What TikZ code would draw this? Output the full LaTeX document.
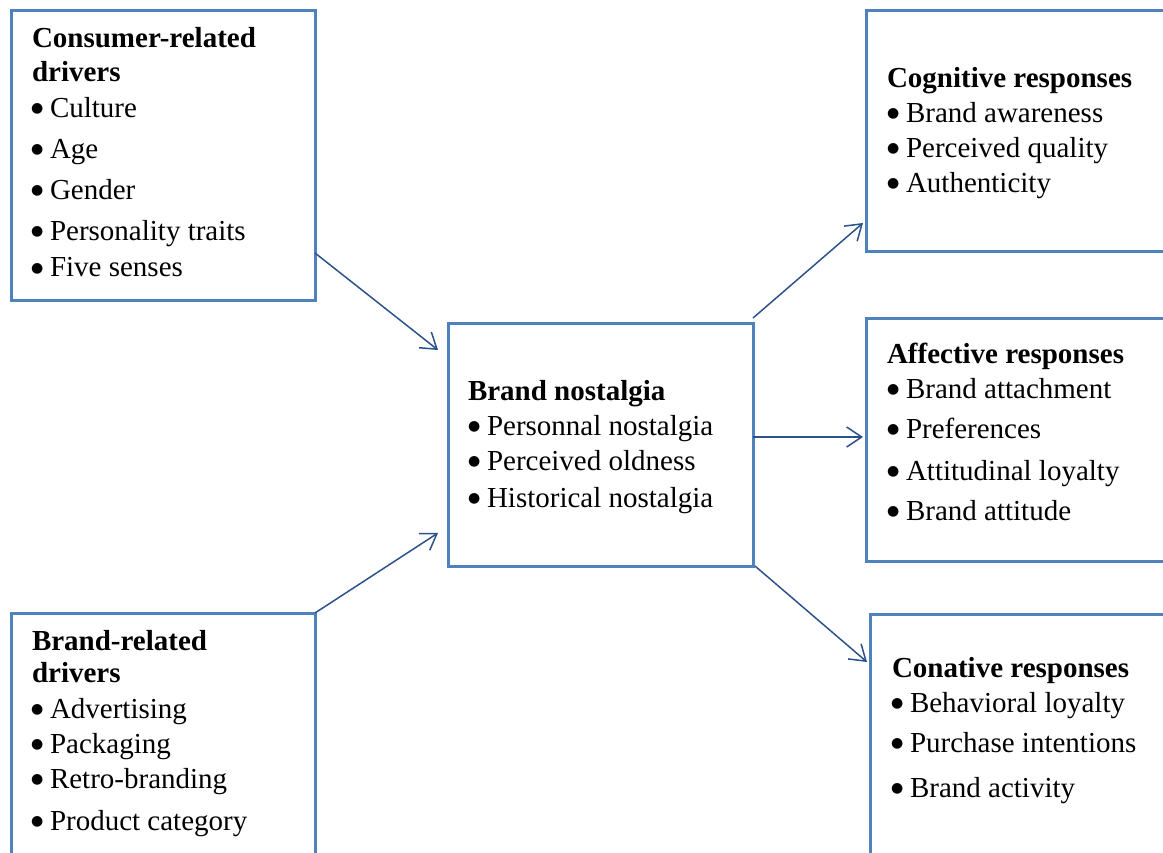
\documentclass[tikz,border=0pt]{standalone}
\usepackage{fontspec}
\setmainfont{Liberation Serif}
\newfontfamily\symfont{DejaVu Sans}
\usetikzlibrary{arrows.meta}
\definecolor{boxblue}{RGB}{79,129,189}
\definecolor{arrowblue}{RGB}{44,82,140}
% round list bullet followed by a fixed gap
\newcommand{\itembul}{\makebox[19pt][l]{\raisebox{5pt}{\fontsize{14}{14}\symfont ●}}}
\begin{document}
\begin{tikzpicture}[x=1pt,y=-1pt,
  box/.style={draw=boxblue, line width=3pt, rectangle, inner sep=0pt, outer sep=0pt, anchor=north west},
  txt/.style={anchor=base west, inner sep=0pt, outer sep=0pt, font=\fontsize{29}{34}\selectfont},
  head/.style={txt, font=\fontsize{29}{34}\selectfont\bfseries},
  link/.style={draw=arrowblue, line width=1.5pt, -{Straight Barb[length=15pt,width=20pt]}}]
\useasboundingbox (0,0) rectangle (1163,853);
\clip (0,0) rectangle (1163,853);

% frames
\node[box, minimum width=304pt, minimum height=290pt] (cons) at (11,11) {};
\node[box, minimum width=304pt, minimum height=300pt] (brd) at (11,613) {};
\node[box, minimum width=305pt, minimum height=242pt] (nost) at (448,324) {};
\node[box, minimum width=310pt, minimum height=241pt] (cog) at (866,11) {};
\node[box, minimum width=310pt, minimum height=242pt] (aff) at (866,319) {};
\node[box, minimum width=310pt, minimum height=300pt] (con) at (870,614) {};

% consumer-related drivers
\node[head] (cdh1) at (32,48) {Consumer-related};
\node[head] (cdh2) at (32,82) {drivers};
\foreach \y/\t [count=\i] in {118/Culture,159/Age,200/Gender,241/Personality traits,277/Five senses}
  \node[txt] (cd\i) at (31,\y) {\itembul\t};

% brand-related drivers
\node[head] (bdh1) at (32,650) {Brand-related};
\node[head] (bdh2) at (32,682) {drivers};
\foreach \y/\t [count=\i] in {718/Advertising,753/Packaging,788/Retro-branding,830/Product category}
  \node[txt] (bd\i) at (31,\y) {\itembul\t};

% brand nostalgia
\node[head] (nh) at (468,400) {Brand nostalgia};
\foreach \y/\t [count=\i] in {435/Personnal nostalgia,470/Perceived oldness,507/Historical nostalgia}
  \node[txt] (n\i) at (468,\y) {\itembul\t};

% cognitive responses
\node[head] (cgh) at (887,88) {Cognitive responses};
\foreach \y/\t [count=\i] in {123/Brand awareness,158/Perceived quality,193/Authenticity}
  \node[txt] (cg\i) at (887,\y) {\itembul\t};

% affective responses
\node[head] (afh) at (887,363) {Affective responses};
\foreach \y/\t [count=\i] in {398/Brand attachment,438/Preferences,480/Attitudinal loyalty,520/Brand attitude}
  \node[txt] (af\i) at (887,\y) {\itembul\t};

% conative responses
\node[head] (cnh) at (892,677) {Conative responses};
\foreach \y/\t [count=\i] in {712/Behavioral loyalty,752/Purchase intentions,797/Brand activity}
  \node[txt] (cn\i) at (891,\y) {\itembul\t};

% links
\draw[link] ([yshift=-242pt]cons.north east) -- ([xshift=-10pt,yshift=-26pt]nost.north west);
\draw[link] (brd.north east) -- ([xshift=-10pt,yshift=33pt]nost.south west);
\draw[link] ([yshift=6pt]nost.north east) -- ([xshift=-3pt,yshift=29pt]cog.south west);
\draw[link] ([yshift=-113pt]nost.north east) -- ([xshift=-3pt,yshift=-118pt]aff.north west);
\draw[link] ([xshift=2pt]nost.south east) -- ([xshift=-3pt,yshift=-48pt]con.north west);
\end{tikzpicture}
\end{document}
